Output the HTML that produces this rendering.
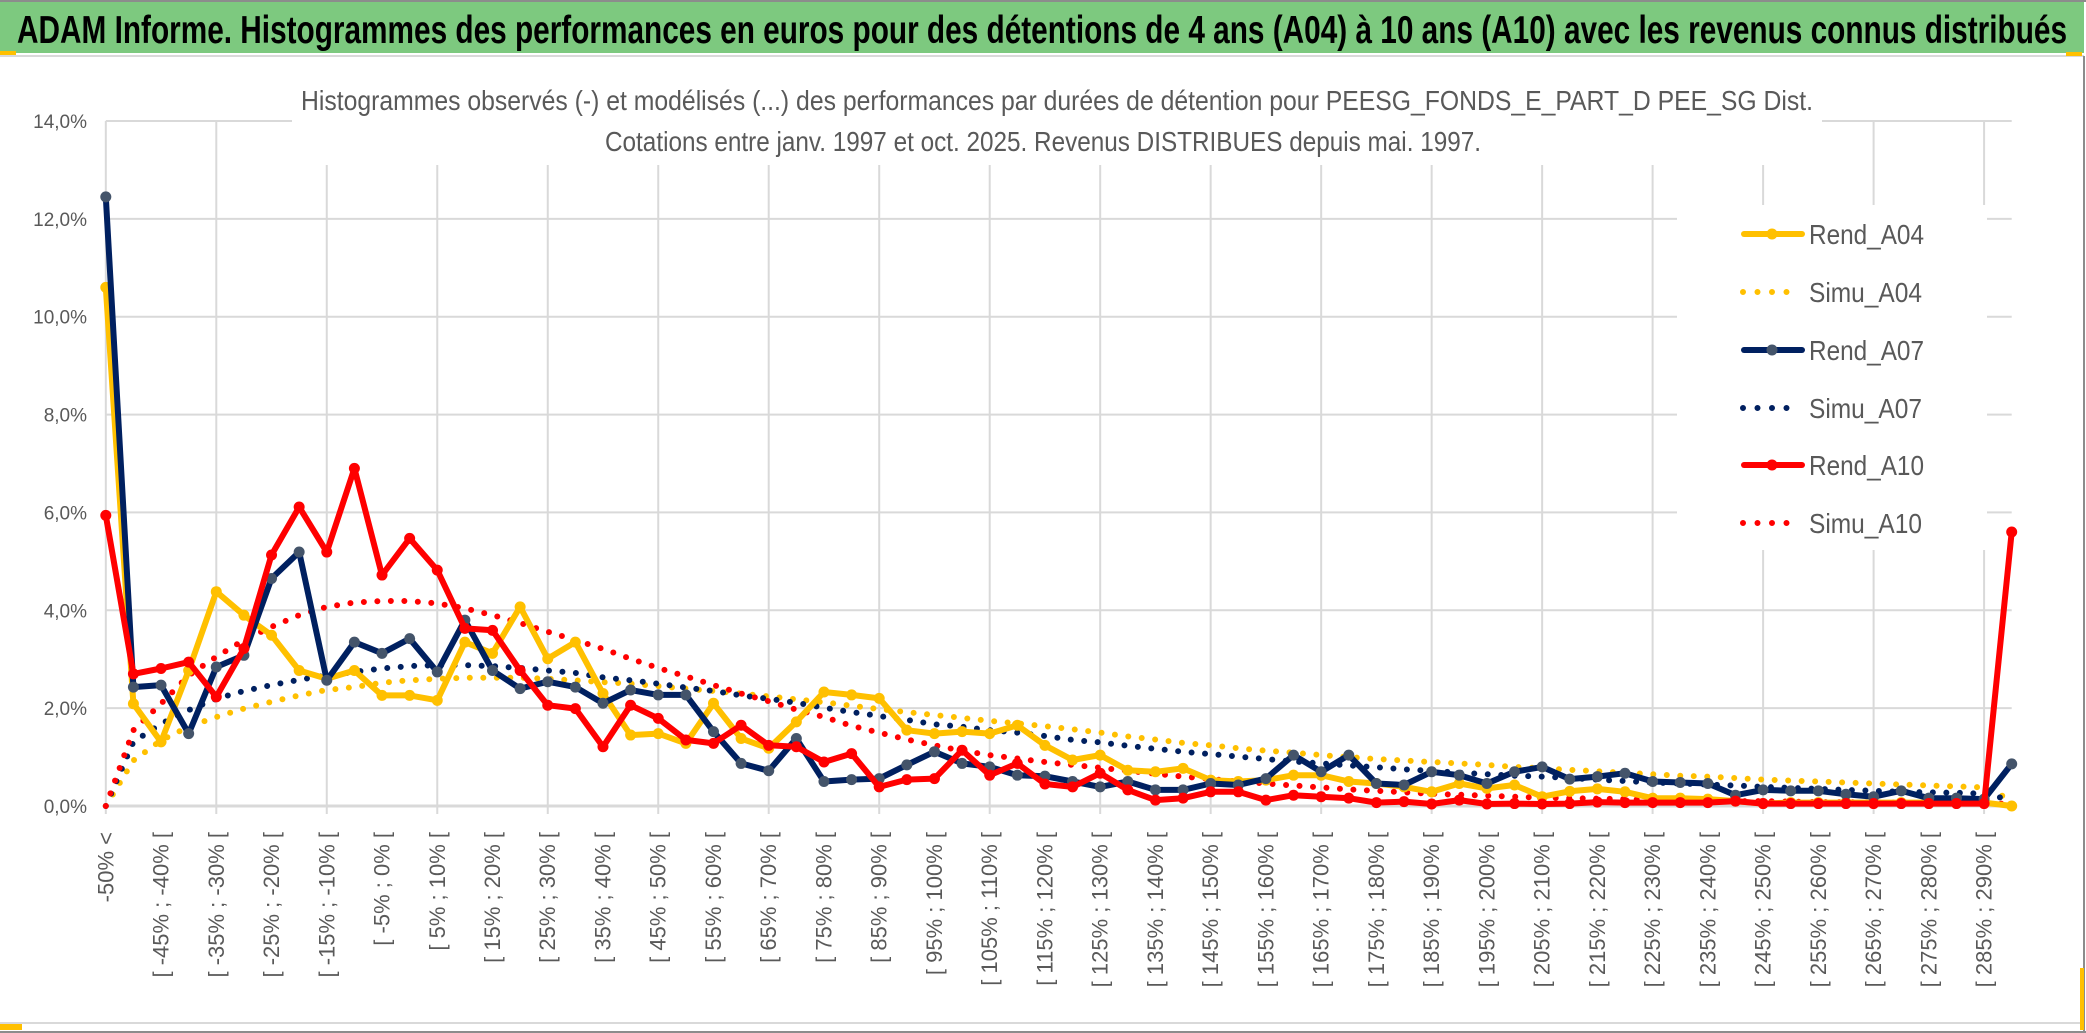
<!DOCTYPE html>
<html><head><meta charset="utf-8"><style>
html,body{margin:0;padding:0;background:#fff;}
svg{display:block;}
text{font-family:"Liberation Sans",sans-serif;}
</style></head><body>
<svg id="chart" width="2086" height="1033" viewBox="0 0 2086 1033" xmlns="http://www.w3.org/2000/svg">
<rect x="0" y="0" width="2086" height="1033" fill="#fff"/>
<rect x="0" y="2" width="2084" height="51" fill="#7DC97F"/>
<line x1="0" y1="1" x2="2086" y2="1" stroke="#8c8c8c" stroke-width="2"/>
<line x1="0" y1="56" x2="2084" y2="56" stroke="#d9d9d9" stroke-width="2"/>
<text x="17" y="43" font-size="39" font-weight="bold" fill="#000" textLength="2050" lengthAdjust="spacingAndGlyphs">ADAM Informe. Histogrammes des performances en euros pour des détentions de 4 ans (A04) à 10 ans (A10) avec les revenus connus distribués</text>
<line x1="2084" y1="56" x2="2084" y2="1032" stroke="#8c8c8c" stroke-width="2"/>
<line x1="0" y1="1023" x2="2084" y2="1023" stroke="#d9d9d9" stroke-width="2"/>
<line x1="0" y1="1032" x2="2086" y2="1032" stroke="#8c8c8c" stroke-width="2"/>
<rect x="0" y="1024" width="22" height="6" fill="#FFC000"/>
<rect x="0" y="51" width="16" height="4" fill="#FFC000"/>
<rect x="2066" y="52" width="16" height="4" fill="#FFC000"/>
<rect x="2080" y="968" width="4" height="62" fill="#FFC000"/>
<g id="grid"></g>
<rect x="292" y="62" width="1530" height="103" fill="#fff"/>
<text x="301" y="110" font-size="28" fill="#595959" textLength="1512" lengthAdjust="spacingAndGlyphs">Histogrammes observés (-) et modélisés (...) des performances par durées de détention pour PEESG_FONDS_E_PART_D PEE_SG Dist.</text>
<text x="605" y="151" font-size="28" fill="#595959" textLength="876" lengthAdjust="spacingAndGlyphs">Cotations entre janv. 1997 et oct. 2025. Revenus DISTRIBUES depuis mai. 1997.</text>
<g id="yaxis"></g>
<g id="xaxis"></g>
<g id="series"></g>
<g id="legend"></g>
</svg>
<script>
const categories = (function(){const c=["-50% <"];for(let k=1;k<70;k++){const a=-50+5*(k-1);c.push("[ "+a+"% ; "+(a+5)+"% [");}return c;})();
const yTicks = [0,2,4,6,8,10,12,14];
const yTickLabels = ["0,0%","2,0%","4,0%","6,0%","8,0%","10,0%","12,0%","14,0%"];
const rendA04 = [10.6,2.09,1.31,2.77,4.38,3.9,3.49,2.77,2.6,2.77,2.26,2.26,2.16,3.35,3.12,4.07,3.01,3.35,
2.3,1.45,1.48,1.28,2.1,1.38,1.18,1.72,2.33,2.27,2.2,1.55,1.48,1.52,1.48,1.65,1.24,0.94,
1.04,0.73,0.7,0.77,0.53,0.5,0.53,0.63,0.63,0.5,0.46,0.39,0.29,0.46,0.36,0.43,0.19,
0.3,0.35,0.29,0.16,0.16,0.14,0.1,0.05,0.07,0.07,0.07,0.07,0.07,0.07,0.07,0.07,0.0];
const rendA07 = [12.45,2.43,2.47,1.48,2.84,3.08,4.65,5.19,2.57,3.35,3.12,3.42,2.74,3.8,2.77,2.4,2.54,2.43,
2.1,2.37,2.27,2.27,1.52,0.87,0.72,1.38,0.5,0.54,0.56,0.84,1.11,0.87,0.8,0.63,0.61,0.5,
0.39,0.5,0.33,0.33,0.46,0.43,0.56,1.04,0.7,1.04,0.46,0.43,0.7,0.63,0.46,0.7,0.8,
0.55,0.6,0.67,0.5,0.48,0.46,0.22,0.33,0.31,0.31,0.24,0.19,0.31,0.16,0.16,0.14,0.86];
const rendA10 = [5.94,2.7,2.81,2.94,2.23,3.22,5.13,6.11,5.19,6.9,4.72,5.47,4.82,3.63,3.59,2.77,2.06,1.99,
1.21,2.06,1.79,1.35,1.28,1.65,1.24,1.21,0.9,1.07,0.39,0.54,0.56,1.14,0.63,0.87,0.45,0.39,
0.67,0.33,0.12,0.16,0.29,0.29,0.12,0.22,0.19,0.16,0.07,0.09,0.04,0.12,0.04,0.05,0.04,
0.05,0.08,0.07,0.07,0.07,0.07,0.1,0.05,0.05,0.05,0.05,0.05,0.05,0.05,0.05,0.05,5.6];
const simuA04 = [0,0.93,1.34,1.62,1.82,1.99,2.13,2.26,2.37,2.43,2.52,2.57,2.6,2.62,2.62,2.62,2.6,2.57,
2.53,2.5,2.45,2.4,2.35,2.3,2.24,2.18,2.12,2.05,1.98,1.92,1.86,1.8,1.74,1.69,1.63,1.57,
1.5,1.42,1.36,1.29,1.24,1.18,1.13,1.09,1.04,1.0,0.96,0.93,0.9,0.87,0.84,0.8,0.77,
0.74,0.71,0.68,0.65,0.62,0.6,0.57,0.54,0.52,0.5,0.48,0.46,0.44,0.42,0.4,0.38,0.12];
const simuA07 = [0,1.31,1.68,1.96,2.19,2.35,2.47,2.58,2.67,2.74,2.81,2.86,2.88,2.88,2.86,2.82,2.77,2.72,
2.63,2.57,2.5,2.42,2.35,2.26,2.19,2.11,2.01,1.92,1.84,1.76,1.67,1.62,1.55,1.5,1.43,1.35,
1.3,1.23,1.17,1.11,1.06,1.01,0.96,0.91,0.87,0.83,0.79,0.75,0.72,0.68,0.65,0.62,0.6,
0.57,0.54,0.51,0.48,0.46,0.44,0.42,0.39,0.37,0.35,0.33,0.31,0.29,0.28,0.27,0.25,0.12];
const simuA10 = [0,1.55,2.09,2.67,3.05,3.39,3.66,3.9,4.07,4.16,4.19,4.19,4.14,4.04,3.9,3.74,3.56,3.39,
3.21,3.01,2.82,2.65,2.47,2.3,2.14,1.97,1.82,1.64,1.5,1.36,1.24,1.13,1.04,0.97,0.9,0.84,
0.78,0.72,0.66,0.6,0.55,0.5,0.46,0.42,0.38,0.34,0.31,0.28,0.25,0.23,0.21,0.19,0.17,
0.16,0.15,0.14,0.13,0.12,0.11,0.1,0.1,0.09,0.08,0.08,0.07,0.07,0.06,0.06,0.05,0.05];
const seriesNames = ["Rend_A04","Simu_A04","Rend_A07","Simu_A07","Rend_A10","Simu_A10"];

const NS="http://www.w3.org/2000/svg";
const X0=105.8, X1=2011.7, Y0=806, Y14=121, YMAX=14;
const step=(X1-X0)/(categories.length-1);
function xs(i){return X0+i*step;}
function ys(v){return Y0-(v/YMAX)*(Y0-Y14);}
function mk(tag,attrs,parent){const e=document.createElementNS(NS,tag);for(const k in attrs)e.setAttribute(k,attrs[k]);parent.appendChild(e);return e;}

const grid=document.getElementById('grid');
yTicks.forEach((t,i)=>{
  const l=mk('line',{x1:X0,x2:X1,y1:ys(t),y2:ys(t),stroke:'#d9d9d9','stroke-width':t===0?3:2},grid);
  
  
});
for(let i=0;i<categories.length;i+=4){
  const l=mk('line',{x1:xs(i),x2:xs(i),y1:Y14,y2:Y0+8,stroke:'#d9d9d9','stroke-width':2},grid);
  
  
}
const ya=document.getElementById('yaxis');
yTicks.forEach((t,i)=>{
  const tx=mk('text',{x:87,y:ys(t)+7,'text-anchor':'end','font-size':19,fill:'#595959'},ya);
  tx.textContent=yTickLabels[i];
  
  
});
const xa=document.getElementById('xaxis');
categories.forEach((c,i)=>{
  if(i%2) return;
  const x=xs(i), y=832;
  const tx=mk('text',{x:x,y:y,transform:`rotate(-90 ${x} ${y})`,'text-anchor':'end','dominant-baseline':'central','font-size':22,fill:'#595959'},xa);
  tx.textContent=c;
  
  
});

const sg=document.getElementById('series');
function pts(arr){return arr.map((v,i)=>xs(i).toFixed(1)+','+ys(v).toFixed(1)).join(' ');}
function simu(arr,color,name){
  const p=mk('polyline',{points:pts(arr),fill:'none',stroke:color,'stroke-width':6,'stroke-linecap':'round','stroke-dasharray':'0 13.5'},sg);
  
  
}
function rend(arr,color,mcolor,name){
  const g=mk('g',{},sg);
  
  
  mk('polyline',{points:pts(arr),fill:'none',stroke:color,'stroke-width':6,'stroke-linejoin':'round'},g);
  arr.forEach((v,i)=>{
    const c=mk('circle',{cx:xs(i),cy:ys(v),r:5.5,fill:mcolor},g);
    
    
  });
}
simu(simuA04,'#FFC000','simu-a04-line');
simu(simuA07,'#002060','simu-a07-line');
simu(simuA10,'#FF0000','simu-a10-line');
rend(rendA04,'#FFC000','#FFC000','rend-a04-line');
rend(rendA07,'#002060','#44546A','rend-a07-line');
rend(rendA10,'#FF0000','#FF0000','rend-a10-line');

const lg=document.getElementById('legend');
const lbg=mk('rect',{x:1677,y:205,width:310,height:345,fill:'#fff'},lg);


const legY=[234,292,350,408,465,523];
const legC=['#FFC000','#FFC000','#002060','#002060','#FF0000','#FF0000'];
const legM=['#FFC000',null,'#44546A',null,'#FF0000',null];
seriesNames.forEach((n,i)=>{
  const g=mk('g',{},lg);
  
  
  const y=legY[i];
  if(legM[i]){
    mk('line',{x1:1744,x2:1802,y1:y,y2:y,stroke:legC[i],'stroke-width':6,'stroke-linecap':'round'},g);
    mk('circle',{cx:1772,cy:y,r:5.5,fill:legM[i]},g);
  } else {
    mk('line',{x1:1743,x2:1790,y1:y,y2:y,stroke:legC[i],'stroke-width':6,'stroke-linecap':'round','stroke-dasharray':'0 14.5'},g);
  }
  const t=mk('text',{x:1809,y:y+10,'font-size':28,fill:'#595959',textLength:n.startsWith('Rend')?115:113,lengthAdjust:'spacingAndGlyphs'},g);
  t.textContent=n;
});
</script>
</body></html>
